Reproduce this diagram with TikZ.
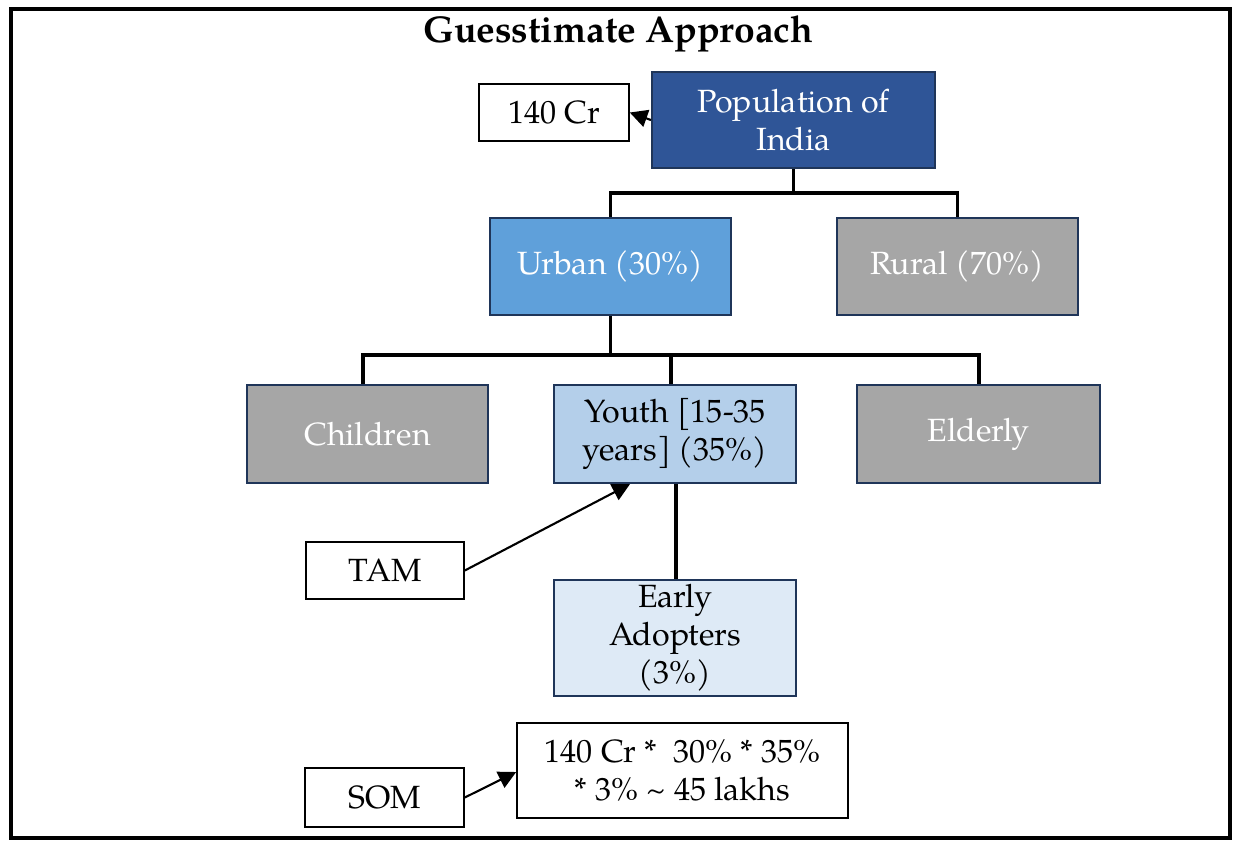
\documentclass[tikz,border=0pt]{standalone}
\usepackage{fontspec}
\setmainfont{TeX Gyre Pagella}
\usetikzlibrary{arrows.meta}
\definecolor{darkblue}{HTML}{2F5597}
\definecolor{midblue}{HTML}{5FA0DA}
\definecolor{paleblue}{HTML}{B4CFEA}
\definecolor{paleblueb}{HTML}{DEEAF6}
\definecolor{boxgray}{HTML}{A6A6A6}
\definecolor{navyedge}{HTML}{1F3559}
\tikzset{
  every node/.style={font=\fontsize{18.3}{21.6}\selectfont, align=center, inner sep=0pt},
  tree/.style={draw=navyedge, line width=1.2pt},
  plain/.style={draw=black, fill=white, line width=0.9pt},
  link/.style={line width=2.1pt, black},
  pointer/.style={line width=1.2pt, black, -{Triangle[length=10pt,width=10pt]}},
}
\begin{document}
\begin{tikzpicture}[x=0.02cm, y=-0.02cm]
  \useasboundingbox (0,0) rectangle (1242,843);
  \fill[white] (0,0) rectangle (1242,843);
  % outer frame
  \draw[line width=2pt] (11,9) rectangle (1230,838);
  \node[font=\bfseries\fontsize{21.2}{25}\selectfont] (title) at (618,34) {Guesstimate Approach};

  % boxes
  \node[tree, fill=darkblue, text=white, minimum width=283*0.02cm, minimum height=96*0.02cm] (pop) at (793.5,120) {Population of\\India};
  \node[plain, minimum width=150*0.02cm, minimum height=57*0.02cm] (cr) at (554,112.5) {140 Cr};
  \node[tree, fill=midblue, text=white, minimum width=241*0.02cm, minimum height=97*0.02cm] (urban) at (610.5,266.5) {Urban (30\%)};
  \node[tree, fill=boxgray, text=white, minimum width=241*0.02cm, minimum height=97*0.02cm] (rural) at (957.5,266.5) {Rural (70\%)};
  \node[tree, fill=boxgray, text=white, minimum width=241*0.02cm, minimum height=98*0.02cm] (child) at (367.5,434) {Children};
  \node[tree, fill=paleblue, minimum width=242*0.02cm, minimum height=98*0.02cm] (youth) at (675,434) {Youth [15-35\\years] (35\%)};
  \node[tree, fill=boxgray, text=white, minimum width=243*0.02cm, minimum height=98*0.02cm] (elder) at (978.5,434) {Elderly};
  \node[tree, fill=paleblueb, minimum width=242*0.02cm, minimum height=116*0.02cm] (early) at (675,638) {Early\\Adopters\\(3\%)};
  \node[plain, minimum width=158*0.02cm, minimum height=57*0.02cm] (tam) at (385,570.5) {TAM};
  \node[plain, minimum width=159*0.02cm, minimum height=59*0.02cm] (som) at (384.5,797.5) {SOM};
  \node[plain, minimum width=331*0.02cm, minimum height=95*0.02cm] (calc) at (682.5,770.5) {140 Cr *\ \ 30\% * 35\%\\* 3\% \textasciitilde{} 45 lakhs};

  % tree connectors
  \draw[link] (pop.south) -- ++(0,24) coordinate (j1);
  \draw[link] (urban.north) |- (j1) -| (rural.north);
  \draw[link] (urban.south) -- ++(0,39) coordinate (j2);
  \draw[link] (child.north -| 363,0) |- (j2) -| (elder.north -| 979,0);
  \draw[link] (youth.north -| 671,0) -- (j2 -| 671,0);
  \draw[link] (youth.south -| 676,0) -- (early.north -| 676,0);

  % annotation arrows
  \draw[pointer] (pop.west) -- (cr.east);
  \draw[pointer] (tam.east) -- (youth.south -| 630,0);
  \draw[pointer] (som.east) -- (calc.west |- 0,772);
\end{tikzpicture}
\end{document}
